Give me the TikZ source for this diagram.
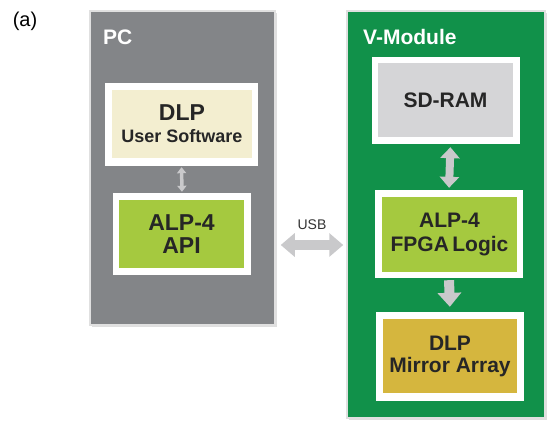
\documentclass[tikz,border=0pt]{standalone}
\usepackage{fontspec}
\setmainfont{Liberation Sans}
\usetikzlibrary{arrows.meta,shadows}
\definecolor{pcgray}{HTML}{838588}
\definecolor{vgreen}{HTML}{11914A}
\definecolor{beige}{HTML}{F3EED0}
\definecolor{lgreen}{HTML}{A5C93F}
\definecolor{ramgray}{HTML}{D5D5D7}
\definecolor{gold}{HTML}{D5B63E}
\definecolor{agray}{HTML}{C9C9CB}
\tikzset{
  outerbox/.style={draw=black!12, line width=1.5pt, minimum width=#1, inner sep=0pt,
    drop shadow={opacity=0.25, shadow xshift=1.5pt, shadow yshift=-2pt}},
  frame/.style={fill=white, inner sep=0pt},
  blk/.style={inner sep=0pt, align=center, text=black!85, font=\bfseries\fontsize{21}{23}\selectfont},
  fat/.style={draw=agray, line width=#1},
  title/.style={text=white, font=\bfseries\fontsize{21}{23}\selectfont, anchor=base west, inner sep=0pt}
}
\begin{document}
\begin{tikzpicture}[x=1pt,y=-1pt]
\useasboundingbox (0,0) rectangle (547,425);
% (a)
\node[font=\fontsize{20}{22}\selectfont, inner sep=0pt] (lbl) at (25,21) {(a)};
% PC box
\node[outerbox=185pt, minimum height=314pt, fill=pcgray] (pc) at (182.5,168) {};
\node[title] (pct) at (103,45) {PC};
\node[frame, minimum width=153pt, minimum height=83pt] (swf) at (181.5,124.5) {};
\node[blk, fill=beige, minimum width=140pt, minimum height=68pt] (sw) at (182,124)
  {\fontsize{23}{20}\selectfont DLP\\[-1pt]\fontsize{18}{20}\selectfont User Software};
\node[frame, minimum width=138pt, minimum height=82pt] (apif) at (182,234) {};
\node[blk, fill=lgreen, minimum width=125pt, minimum height=68pt, font=\bfseries\fontsize{23}{23}\selectfont] (api) at (181.5,234) {ALP-4\\API};
% V-Module box
\node[outerbox=198pt, minimum height=407pt, fill=vgreen] (vm) at (446,214.5) {};
\node[title] (vmt) at (363,45) {V-Module};
\node[frame, minimum width=148pt, minimum height=87pt] (ramf) at (446,100.5) {};
\node[blk, fill=ramgray, minimum width=135pt, minimum height=74pt] (ram) at (445.5,100) {SD-RAM};
\node[frame, minimum width=148pt, minimum height=88pt] (fpgaf) at (449,234) {};
\node[blk, fill=lgreen, minimum width=135pt, minimum height=75pt, font=\bfseries\fontsize{21}{24}\selectfont] (fpga) at (449.5,234.5) {ALP-4\\FPGA\,Logic};
\node[frame, minimum width=148pt, minimum height=89pt] (mirf) at (450,356.5) {};
\node[blk, fill=gold, minimum width=134pt, minimum height=74pt, font=\bfseries\fontsize{21}{22}\selectfont] (mir) at (450,356) {DLP\\Mirror Array};
% connectors
\draw[fat=3.5pt, {Triangle[length=6pt,width=9pt]}-{Triangle[length=6pt,width=9pt]}, shorten <=1pt, shorten >=1pt]
  (swf.south) -- (apif.north);
\draw[fat=8pt, {Triangle[length=11pt,width=19pt]}-{Triangle[length=11pt,width=19pt]}, shorten <=3pt, shorten >=2pt]
  ([xshift=4.5pt]ramf.south) -- (fpgaf.north);
\draw[fat=10pt, -{Triangle[length=14pt,width=23pt]}, shorten <=2pt, shorten >=5pt]
  (fpgaf.south) -- (mirf.north);
\draw[fat=10pt, {Triangle[length=14pt,width=23pt]}-{Triangle[length=14pt,width=23pt]}, shorten <=5pt, shorten >=3pt]
  (pc.east |- 0,245) coordinate (u1) -- (vm.west |- 0,245) coordinate (u2);
\node[font=\fontsize{14}{16}\selectfont, text=black!80, inner sep=0pt] (usb) at (312,225) {USB};
\end{tikzpicture}
\end{document}
